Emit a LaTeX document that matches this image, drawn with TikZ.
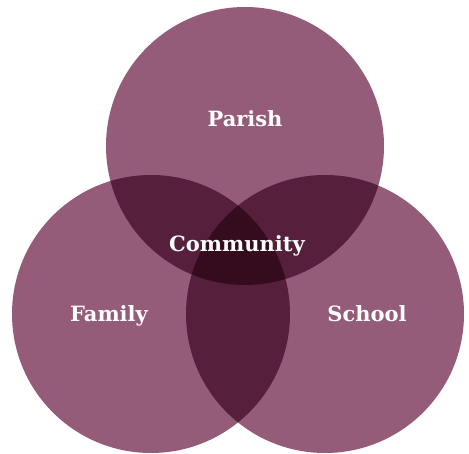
\documentclass[tikz,border=0pt]{standalone}
\usepackage{fontspec}
\setmainfont{DejaVu Serif}
\definecolor{onecolor}{HTML}{955C7A}
\definecolor{twocolor}{HTML}{56203D}
\definecolor{threecolor}{HTML}{340C1E}
\tikzset{
  label text/.style={anchor=base,text=white,font=\fontsize{21}{26}\selectfont\bfseries},
  set/.style={radius=139pt}
}
\begin{document}
\begin{tikzpicture}[x=1pt,y=-1pt]
      \useasboundingbox (0,0) rectangle (469,454);

      \coordinate (parish) at (245,146);
      \coordinate (family) at (151,314);
      \coordinate (school) at (325,314);

      % the three sets
      \fill[onecolor] (parish) circle[set];
      \fill[onecolor] (family) circle[set];
      \fill[onecolor] (school) circle[set];

      % pairwise overlaps
      \begin{scope}
        \clip (parish) circle[set];
        \fill[twocolor] (family) circle[set];
        \fill[twocolor] (school) circle[set];
      \end{scope}
      \begin{scope}
        \clip (family) circle[set];
        \fill[twocolor] (school) circle[set];
      \end{scope}

      % middle
      \begin{scope}
        \clip (parish) circle[set];
        \clip (family) circle[set];
        \fill[threecolor] (school) circle[set];
      \end{scope}

      \begin{scope}[every node/.style={label text}]
        \node (p) at (245,127) {Parish};
        \node (c) at (237,252) {Community};
        \node (f) at (109,322) {Family};
        \node (s) at (367,322) {School};
      \end{scope}

    \end{tikzpicture}
\end{document}
